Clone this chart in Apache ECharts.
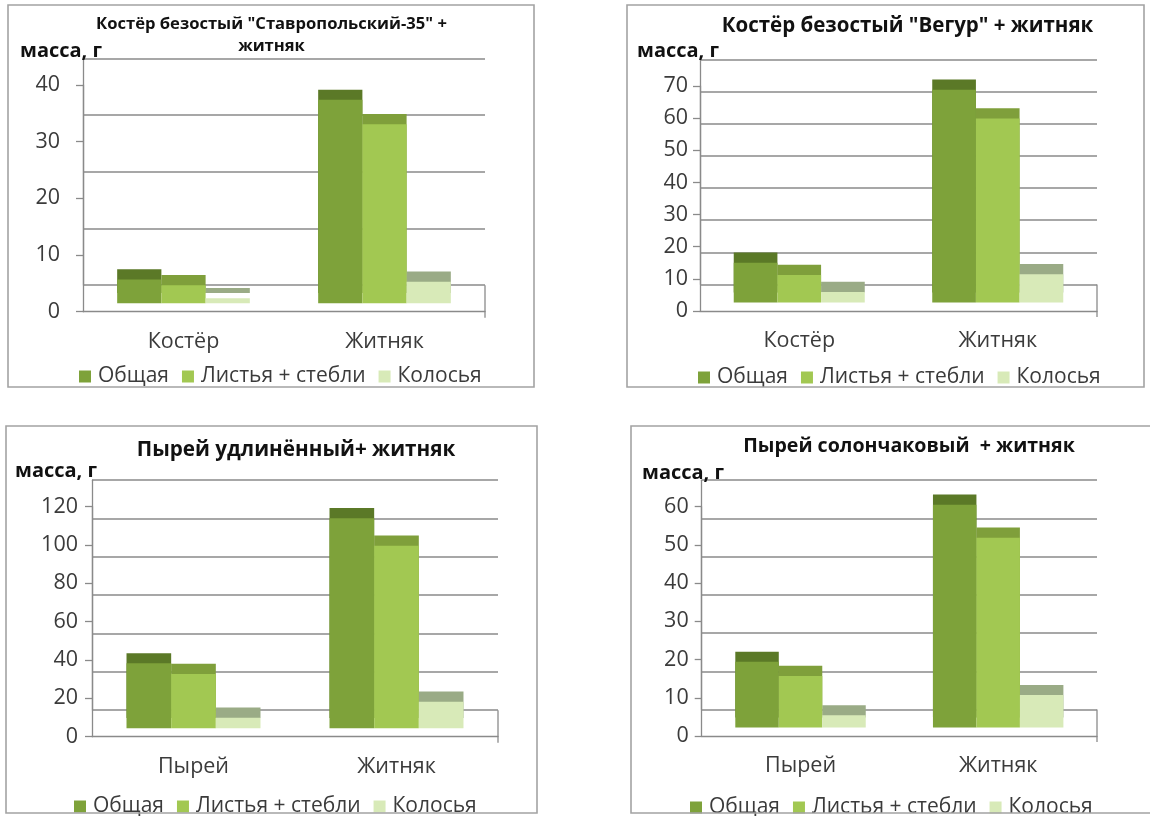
<!DOCTYPE html>
<html>
<head>
<meta charset="utf-8">
<script src="https://cdn.jsdelivr.net/npm/echarts@6/dist/echarts.min.js"></script>
<style>
  html, body { margin: 0; padding: 0; background: #ffffff; }
  #chart { width: 1150px; height: 816px; }
</style>
</head>
<body>
<div id="chart"></div>
<script>
// Biomass of the components in four mixed sowings, g
const seriesNames = ['Общая', 'Листья + стебли', 'Колосья'];

const titles1 = ['Костёр безостый "Ставропольский-35" +', 'житняк'];
const categories1 = ['Костёр', 'Житняк'];
const total1 = [4.2, 35.9];
const leaves1 = [3.2, 31.6];
const ears1 = [0.9, 3.8];
const yTicks1 = { max: 40, interval: 10 };

const titles2 = ['Костёр безостый "Вегур" + житняк'];
const categories2 = ['Костёр', 'Житняк'];
const total2 = [12.4, 66.2];
const leaves2 = [8.6, 57.3];
const ears2 = [3.3, 8.8];
const yTicks2 = { max: 70, interval: 10 };

const titles3 = ['Пырей удлинённый+ житняк'];
const categories3 = ['Пырей', 'Житняк'];
const total3 = [33.9, 109.6];
const leaves3 = [28.3, 95.3];
const ears3 = [5.5, 13.9];
const yTicks3 = { max: 120, interval: 20 };

const titles4 = ['Пырей солончаковый  + житняк'];
const categories4 = ['Пырей', 'Житняк'];
const total4 = [17.2, 58.3];
const leaves4 = [13.5, 49.7];
const ears4 = [3.2, 8.5];
const yTicks4 = { max: 60, interval: 10 };

const yName = 'масса, г';

// colours: front faces and the darker top faces of the columns
const frontColors = ['#7ea23a', '#a2c852', '#d8eab8'];
const topColors = ['#5b7927', '#7f9f3b', '#9aab86'];
const lineColor = '#8a8a8a';
const textColor = '#3b3b3b';
const FONT = '"Open Sans", "Noto Sans", sans-serif';

// panel layout (pixels)
const panels = [
  { titles: titles1, cats: categories1, vals: [total1, leaves1, ears1], ticks: yTicks1,
    left: 83, right: 485, top: 85, zero: 311.7, labelMargin: 23,
    box: [8, 5, 526, 382], titleX: 271.5, titleY: [24, 46], titleSize: 16.6,
    nameX: 20, nameY: 51.7, legendX: 79, legendY: 376 },
  { titles: titles2, cats: categories2, vals: [total2, leaves2, ears2], ticks: yTicks2,
    left: 700, right: 1097, top: 86, zero: 311, labelMargin: 12,
    box: [627, 5, 517, 382], titleX: 907.5, titleY: [26], titleSize: 20.5,
    nameX: 637, nameY: 51.7, legendX: 698, legendY: 377 },
  { titles: titles3, cats: categories3, vals: [total3, leaves3, ears3], ticks: yTicks3,
    left: 92, right: 498, top: 506.7, zero: 736.7, labelMargin: 14,
    box: [6, 426, 531, 387], titleX: 296, titleY: [450], titleSize: 20.7,
    nameX: 15, nameY: 471.7, legendX: 74, legendY: 806 },
  { titles: titles4, cats: categories4, vals: [total4, leaves4, ears4], ticks: yTicks4,
    left: 701.7, right: 1097, top: 506.7, zero: 736, labelMargin: 13,
    box: [631, 426, 540, 387], titleX: 909, titleY: [446.7], titleSize: 19.6,
    nameX: 642, nameY: 473.3, legendX: 690, legendY: 807 }
];

// depth of the floor, and the front/back planes of the columns
const DEPTH = 26.5;
const BAR_FRONT = 8.4;
const BAR_BACK = 18.6;

const grids = [], xAxes = [], yAxes = [], series = [], graphics = [], legends = [];

panels.forEach((p, pi) => {
  const width = p.right - p.left;
  const height = p.zero - p.top;
  const base = grids.length;
  // 0: front axes, 1: back wall, 2: column back plane, 3: column front plane
  [0, DEPTH, BAR_BACK, BAR_FRONT].forEach(shift => {
    grids.push({ left: p.left, top: p.top - shift, width: width, height: height });
  });

  // front axes with labels
  xAxes.push({
    type: 'category', gridIndex: base, data: p.cats,
    axisLine: { lineStyle: { color: lineColor, width: 1.3 } },
    axisTick: { length: 6, lineStyle: { color: lineColor, width: 1.3 } },
    axisLabel: { fontFamily: FONT, fontSize: 21.5, color: textColor, margin: 19 },
    z: 1
  });
  yAxes.push({
    type: 'value', gridIndex: base, min: 0, max: p.ticks.max, interval: p.ticks.interval,
    axisLine: { show: true, lineStyle: { color: lineColor, width: 1.3 } },
    axisTick: { show: true, length: 7, lineStyle: { color: lineColor, width: 1.3 } },
    axisLabel: { fontFamily: FONT, fontSize: 21.5, color: textColor, margin: p.labelMargin },
    splitLine: { show: false },
    z: 1
  });

  // back wall with gridlines
  xAxes.push({ type: 'category', gridIndex: base + 1, data: p.cats, show: false });
  yAxes.push({
    type: 'value', gridIndex: base + 1, min: 0, max: p.ticks.max, interval: p.ticks.interval,
    axisLine: { show: true, lineStyle: { color: lineColor, width: 1.3 } },
    axisTick: { show: false }, axisLabel: { show: false },
    splitLine: { show: true, lineStyle: { color: lineColor, width: 1.5 } },
    z: 0
  });

  // column planes
  [2, 3].forEach(k => {
    xAxes.push({ type: 'category', gridIndex: base + k, data: p.cats, show: false });
    yAxes.push({ type: 'value', gridIndex: base + k, min: 0, max: p.ticks.max,
      interval: p.ticks.interval, show: false, splitLine: { show: false } });
  });

  // back plane (its visible strip is the top face), then front face
  p.vals.forEach((vals, si) => {
    series.push({
      type: 'bar', name: seriesNames[si] + ' — верх', xAxisIndex: base + 2, yAxisIndex: base + 2,
      data: vals, barGap: '0%', barCategoryGap: '34%',
      itemStyle: { color: topColors[si] }, z: 2, silent: true
    });
  });
  p.vals.forEach((vals, si) => {
    series.push({
      type: 'bar', name: seriesNames[si], xAxisIndex: base + 3, yAxisIndex: base + 3,
      data: vals, barGap: '0%', barCategoryGap: '34%',
      itemStyle: { color: frontColors[si] }, z: 3
    });
  });

  // right edge of the floor
  graphics.push({
    type: 'line', z: 1,
    shape: { x1: p.right, y1: p.zero - DEPTH, x2: p.right, y2: p.zero + 6 },
    style: { stroke: lineColor, lineWidth: 1.3 }
  });

  // panel frame
  graphics.push({
    type: 'rect', z: 10,
    shape: { x: p.box[0], y: p.box[1], width: p.box[2], height: p.box[3] },
    style: { fill: 'none', stroke: '#a3a3a3', lineWidth: 1.6 }
  });

  // title lines
  p.titles.forEach((t, ti) => {
    graphics.push({
      type: 'text', z: 5, x: p.titleX, y: p.titleY[ti],
      style: { text: t, fill: '#111111', align: 'center', verticalAlign: 'middle',
        font: 'bold ' + p.titleSize + 'px ' + FONT }
    });
  });

  // axis name
  graphics.push({
    type: 'text', z: 5, x: p.nameX, y: p.nameY,
    style: { text: yName, fill: '#111111', align: 'left', verticalAlign: 'middle',
      font: 'bold 20px ' + FONT }
  });

  legends.push({
    data: seriesNames, left: p.legendX, top: p.legendY - 10, padding: 0,
    itemWidth: 12, itemHeight: 12, itemGap: 13, icon: 'rect',
    textStyle: { fontFamily: FONT, fontSize: 21, color: textColor, lineHeight: 20, padding: [0, 0, 0, 2] },
    selectedMode: false
  });
});

const chart = echarts.init(document.getElementById('chart'), null, { renderer: 'canvas' });
chart.setOption({
  animation: false,
  backgroundColor: '#ffffff',
  grid: grids,
  xAxis: xAxes,
  yAxis: yAxes,
  legend: legends,
  series: series,
  graphic: graphics
});
</script>
</body>
</html>
